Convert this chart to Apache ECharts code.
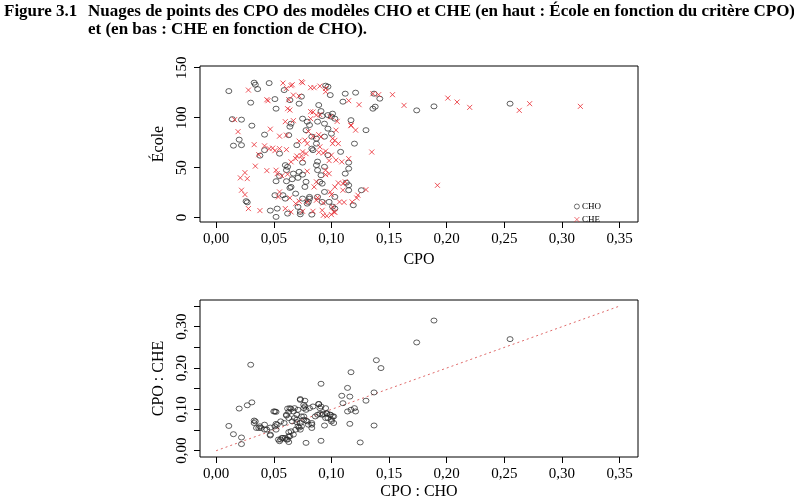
<!DOCTYPE html>
<html>
<head>
<meta charset="utf-8">
<title>Figure 3.1</title>
<script src="https://cdn.jsdelivr.net/npm/echarts@6/dist/echarts.min.js"></script>
</head>
<body style="margin:0;background:#fff">
<div id="main" style="width:794px;height:501px;"></div>
<script type="text/javascript">
// texte de la figure
var figLabel = 'Figure 3.1';
var titleLine1 = 'Nuages de points des CPO des modèles CHO et CHE (en haut : École en fonction du critère CPO)';
var titleLine2 = 'et (en bas : CHE en fonction de CHO).';

// graduations
var cpoTicks = [0, 0.05, 0.10, 0.15, 0.20, 0.25, 0.30, 0.35];
var ecoleTicks = [0, 50, 100, 150];
var cheTicks = [0, 0.05, 0.10, 0.15, 0.20, 0.25, 0.30, 0.35];
var cheLabels = [0, 0.10, 0.20, 0.30];

// haut : École en fonction du CPO, modèle CHO
var topCHO = [
  [0.011,126.6],[0.033,135],[0.034,133],[0.036,128.6],[0.046,134.6],[0.030,115],[0.051,118.6],[0.052,109],
  [0.059,127.6],[0.064,117.6],[0.014,98.5],[0.022,98],[0.031,92],[0.020,78],[0.022,72.5],[0.015,72],
  [0.042,83],[0.042,67.5],[0.038,62],[0.055,64],[0.060,52.5],[0.061,47.5],[0.055,41.5],[0.052,36.4],
  [0.064,29.7],[0.066,38.4],[0.072,45.8],[0.075,43],[0.078,35.8],[0.051,22.4],[0.026,16.4],[0.047,7],
  [0.053,9],[0.052,0.7],[0.062,4],[0.073,3.3],[0.073,5.7],[0.083,3],[0.071,10.7],[0.079,14],
  [0.081,20.7],[0.088,20.7],[0.092,15.7],[0.094,25.7],[0.098,15.7],[0.103,9],[0.101,11],[0.103,20.7],
  [0.115,32.4],[0.115,27.4],[0.119,12.4],[0.126,27.4],[0.112,44],[0.115,49],[0.115,55],[0.108,65.8],
  [0.120,74],[0.130,87.5],[0.117,97.5],[0.112,124],[0.110,116],[0.121,125],[0.136,109],[0.138,111],
  [0.142,119],[0.137,124],[0.097,131],[0.095,132],[0.099,122.6],[0.097,102.6],[0.100,101],[0.101,104],
  [0.103,99],[0.092,101.6],[0.091,106.6],[0.089,112.6],[0.088,96],[0.094,94],[0.097,89],[0.100,84],
  [0.094,81],[0.087,79],[0.083,81],[0.078,87.5],[0.081,92.6],[0.079,96],[0.075,99],[0.065,94],
  [0.064,91],[0.063,82.5],[0.072,114],[0.074,121],[0.070,72.5],[0.083,69],[0.084,67.5],[0.087,74],
  [0.087,52.5],[0.088,56],[0.075,55],[0.088,47.5],[0.091,42.4],[0.090,35.8],[0.092,34],[0.081,19],
  [0.062,50.8],[0.067,44],[0.071,39.8],[0.061,36.4],[0.065,30.7],[0.077,30.7],[0.058,22.4],[0.060,19],
  [0.069,24],[0.075,19],[0.080,15.7],[0.113,35],[0.094,50.8],[0.097,62.5],[0.027,15.3],
  [0.174,107.3],[0.189,111.3],[0.255,114]
];

// haut : École en fonction du CPO, modèle CHE
var topCHE = [
  [0.028,127.6],[0.044,118],[0.058,134.6],[0.061,129.3],[0.065,132],[0.066,133],[0.074,136],[0.075,135],
  [0.082,130],[0.085,130],[0.090,131.6],[0.095,129.3],[0.095,126],[0.067,122.6],[0.072,121.6],[0.063,118],
  [0.115,117],[0.124,113],[0.136,124],[0.141,123],[0.062,109],[0.064,107.6],[0.060,96],[0.067,97],
  [0.061,82.5],[0.055,81.5],[0.016,98],[0.019,86],[0.047,88.5],[0.033,73],[0.042,71.8],[0.046,69],
  [0.049,69.5],[0.051,67],[0.055,69],[0.061,68],[0.037,63],[0.034,51.5],[0.044,47],[0.052,47.4],
  [0.053,44],[0.057,41.8],[0.062,43.4],[0.065,55.8],[0.069,59],[0.074,61.8],[0.075,65.8],[0.078,64],
  [0.072,76.5],[0.077,77.5],[0.079,74],[0.082,99],[0.084,105.6],[0.087,102.6],[0.082,106],[0.090,103],
  [0.099,101],[0.105,96.3],[0.117,92],[0.080,86.3],[0.084,81.3],[0.089,83],[0.103,77.3],[0.093,64.6],
  [0.089,65.3],[0.070,61.6],[0.075,58.3],[0.091,80.8],[0.090,70.8],[0.095,66.5],[0.101,74],[0.106,74],
  [0.101,79],[0.104,87.5],[0.100,62.5],[0.098,57],[0.104,57.5],[0.109,55.8],[0.095,43],[0.098,44],
  [0.106,34.7],[0.103,30.7],[0.110,34],[0.112,35.8],[0.099,25.7],[0.100,23],[0.110,27.4],[0.123,22.4],
  [0.122,19.6],[0.111,15.3],[0.118,15.7],[0.107,15.7],[0.115,59],[0.117,92.6],[0.121,87.5],[0.130,28],
  [0.192,32.3],[0.135,65.6],[0.021,39.8],[0.025,45],[0.027,39],[0.022,27.4],[0.025,23],[0.028,9],
  [0.038,7],[0.054,20.7],[0.055,25.7],[0.064,19.7],[0.060,9],[0.065,5.7],[0.075,6.3],[0.084,6.3],
  [0.079,15.7],[0.087,17.4],[0.088,20],[0.092,7.3],[0.093,2.3],[0.096,1.7],[0.100,3],[0.102,5.7],
  [0.103,5.3],[0.101,10.7],[0.093,14.7],[0.072,16.4],[0.069,14],[0.085,30.7],[0.087,35.8],[0.079,46.4],
  [0.095,47.5],[0.045,117],[0.153,123],[0.163,112.3],[0.201,119.6],[0.209,115.6],[0.220,110.3],
  [0.263,107.3],[0.272,114],[0.316,111.3]
];

// bas : CPO du CHE en fonction du CPO du CHO
var choVsChe = [
  [0.011,0.060],[0.015,0.040],[0.022,0.032],[0.022,0.016],[0.020,0.102],[0.027,0.110],[0.031,0.117],[0.030,0.208],
  [0.033,0.073],[0.033,0.067],[0.037,0.055],[0.039,0.055],[0.042,0.063],[0.042,0.051],[0.047,0.056],[0.047,0.037],
  [0.050,0.095],[0.052,0.094],[0.052,0.065],[0.052,0.051],[0.054,0.027],[0.055,0.023],[0.057,0.031],[0.060,0.031],
  [0.061,0.027],[0.063,0.035],[0.063,0.045],[0.065,0.047],[0.056,0.071],[0.059,0.067],[0.061,0.085],[0.062,0.102],
  [0.065,0.101],[0.067,0.095],[0.063,0.094],[0.068,0.079],[0.070,0.069],[0.072,0.056],[0.073,0.051],[0.074,0.059],
  [0.070,0.087],[0.071,0.099],[0.073,0.123],[0.077,0.121],[0.076,0.111],[0.076,0.103],[0.078,0.099],[0.081,0.103],
  [0.076,0.083],[0.078,0.073],[0.083,0.063],[0.083,0.055],[0.078,0.019],[0.086,0.083],[0.088,0.087],[0.089,0.113],
  [0.091,0.107],[0.090,0.089],[0.093,0.089],[0.095,0.103],[0.096,0.090],[0.097,0.079],[0.094,0.061],[0.091,0.024],
  [0.091,0.162],[0.099,0.087],[0.100,0.075],[0.101,0.083],[0.102,0.067],[0.109,0.133],[0.110,0.115],[0.114,0.152],
  [0.116,0.131],[0.117,0.190],[0.114,0.095],[0.117,0.099],[0.120,0.103],[0.121,0.095],[0.116,0.065],[0.125,0.020],
  [0.130,0.121],[0.137,0.141],[0.139,0.219],[0.143,0.200],[0.137,0.061],[0.174,0.262],[0.189,0.315],[0.255,0.270],
  [0.064,0.103],[0.068,0.103],[0.077,0.107],[0.084,0.107],[0.089,0.113],[0.090,0.103],[0.096,0.091],[0.099,0.087],
  [0.092,0.087],[0.095,0.079],[0.102,0.083],[0.100,0.071],[0.061,0.087],[0.063,0.079],[0.066,0.071],[0.070,0.075],
  [0.074,0.083],[0.076,0.075],[0.079,0.071],[0.080,0.063],[0.083,0.067],[0.071,0.059],[0.073,0.067],[0.069,0.051],
  [0.067,0.039],[0.064,0.035],[0.058,0.031],[0.056,0.027],[0.062,0.027],[0.063,0.021],[0.047,0.039],[0.044,0.051],
  [0.038,0.059],[0.035,0.055],[0.034,0.071],[0.051,0.059],[0.053,0.063],[0.051,0.095],[0.073,0.125]
];

// première bissectrice
var diagLine = [[0, 0], [0.35, 0.35]];

var serif = 'Liberation Serif';
var crossPath = 'path://M0,0L10,10M10,0L0,10';

function virgule(v) {
    return v.toFixed(2).replace('.', ',');
}

function xAxe(grid, name, gap) {
    return {
        gridIndex: grid, type: 'value', min: -0.014, max: 0.366,
        axisLine: {show: false, onZero: false},
        splitLine: {show: false},
        axisTick: {show: true, length: 6, customValues: cpoTicks, lineStyle: {color: '#000'}},
        axisLabel: {customValues: cpoTicks, formatter: virgule, margin: 10,
            fontFamily: serif, fontSize: 15, color: '#000'},
        name: name, nameLocation: 'middle', nameGap: gap,
        nameTextStyle: {fontFamily: serif, fontSize: 16, color: '#000'}
    };
}

var myChart = echarts.init(document.getElementById('main'));

var option = {
    animation: false,
    backgroundColor: '#fff',
    textStyle: {fontFamily: serif},
    graphic: [
        {type: 'text', left: 4, top: 3, style: {text: figLabel, font: 'bold 17px "Liberation Serif"', fill: '#000'}},
        {type: 'text', left: 88, top: 3, style: {text: titleLine1, font: 'bold 17px "Liberation Serif"', fill: '#000'}},
        {type: 'text', left: 88, top: 21, style: {text: titleLine2, font: 'bold 17px "Liberation Serif"', fill: '#000'}}
    ],
    legend: {
        data: [
            {name: 'CHO', itemStyle: {color: 'rgba(0,0,0,0)', borderColor: '#222', borderWidth: 0.8}},
            {name: 'CHE', itemStyle: {color: 'rgba(0,0,0,0)', borderColor: '#e8282f', borderWidth: 0.8}}
        ],
        orient: 'vertical',
        left: 569, top: 197,
        itemWidth: 6, itemHeight: 5, itemGap: 4,
        textStyle: {fontFamily: serif, fontSize: 9, color: '#000', padding: [0, 0, 0, -3]}
    },
    grid: [
        {left: 200, top: 66, width: 438, height: 156, show: true, borderColor: '#000', borderWidth: 1},
        {left: 200, top: 300, width: 438, height: 158, show: true, borderColor: '#000', borderWidth: 1}
    ],
    xAxis: [
        xAxe(0, 'CPO', 30),
        xAxe(1, 'CPO : CHO', 27)
    ],
    yAxis: [
        {
            gridIndex: 0, type: 'value', min: -4.4, max: 151.7,
            axisLine: {show: false, onZero: false},
            splitLine: {show: false},
            axisTick: {show: true, length: 6, customValues: ecoleTicks, lineStyle: {color: '#000'}},
            axisLabel: {customValues: ecoleTicks, rotate: 90, margin: 10,
                fontFamily: serif, fontSize: 15, color: '#000'},
            name: 'École', nameLocation: 'middle', nameGap: 30,
            nameTextStyle: {fontFamily: serif, fontSize: 16, color: '#000'}
        },
        {
            gridIndex: 1, type: 'value', min: -0.0152, max: 0.3647,
            axisLine: {show: false, onZero: false},
            splitLine: {show: false},
            axisTick: {show: true, length: 6, customValues: cheTicks, lineStyle: {color: '#000'}},
            axisLabel: {customValues: cheLabels, formatter: virgule, rotate: 90, margin: 10,
                fontFamily: serif, fontSize: 15, color: '#000'},
            name: 'CPO : CHE', nameLocation: 'middle', nameGap: 30,
            nameTextStyle: {fontFamily: serif, fontSize: 16, color: '#000'}
        }
    ],
    series: [
        {
            name: 'CHO', type: 'scatter', xAxisIndex: 0, yAxisIndex: 0,
            data: topCHO, symbol: 'circle', symbolSize: [6, 5],
            itemStyle: {color: 'rgba(0,0,0,0)', borderColor: '#222', borderWidth: 0.9}
        },
        {
            name: 'CHE', type: 'scatter', xAxisIndex: 0, yAxisIndex: 0,
            data: topCHE, symbol: crossPath, symbolSize: 5,
            itemStyle: {color: 'rgba(0,0,0,0)', borderColor: '#e8282f', borderWidth: 1}
        },
        {
            name: 'CHO vs CHE', type: 'scatter', xAxisIndex: 1, yAxisIndex: 1,
            data: choVsChe, symbol: 'circle', symbolSize: [6, 5],
            itemStyle: {color: 'rgba(0,0,0,0)', borderColor: '#222', borderWidth: 0.9}
        },
        {
            name: 'bissectrice', type: 'line', xAxisIndex: 1, yAxisIndex: 1,
            data: diagLine, symbol: 'none', silent: true, z: 1,
            lineStyle: {color: '#e06a6a', width: 1, type: [2, 3]}
        }
    ]
};

myChart.setOption(option);
</script>
</body>
</html>
